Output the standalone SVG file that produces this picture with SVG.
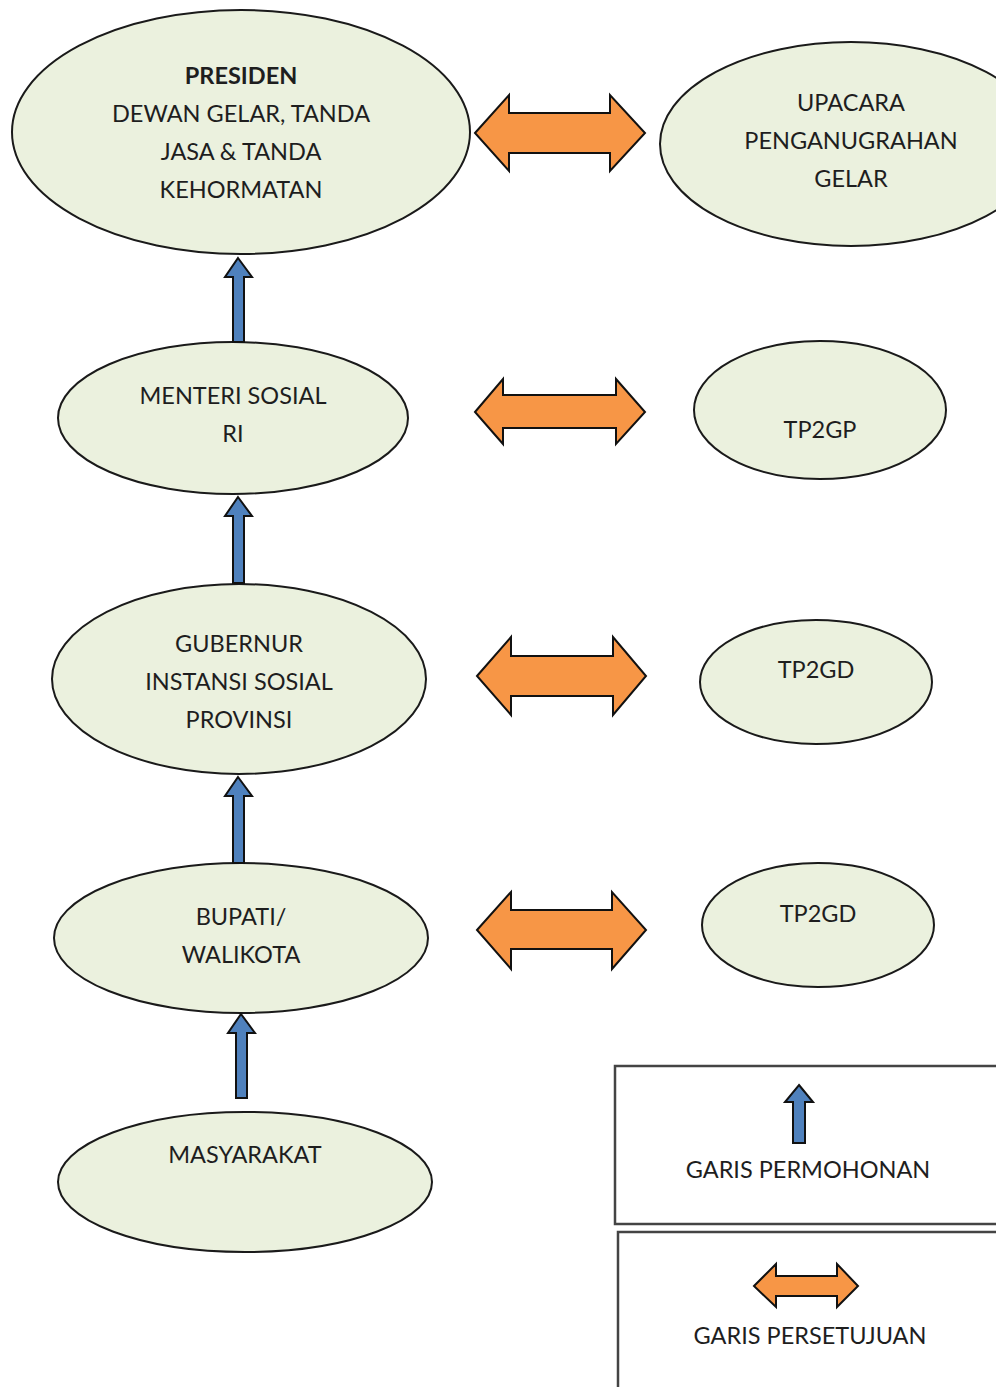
<svg xmlns="http://www.w3.org/2000/svg" width="996" height="1387" viewBox="0 0 996 1387">
<style>
.node{fill:#EBF1DE;stroke:#1a1a1a;stroke-width:2}
.t{font-family:Lato,"Open Sans",sans-serif;font-size:23.5px;fill:#1e1e1e;text-anchor:middle}
.b{font-weight:bold}
.up{fill:#4F81BD;stroke:#111;stroke-width:2;stroke-linejoin:miter}
.dbl{fill:#F79646;stroke:#111;stroke-width:2;stroke-linejoin:miter}
.box{fill:#fff;stroke:#444;stroke-width:2.5}
</style>
<rect width="996" height="1387" fill="#fff"/>
<g id="presiden">
<ellipse class="node" cx="241" cy="132" rx="229" ry="122"/>
<text class="t b" x="241" y="84">PRESIDEN</text>
<text class="t" x="241" y="122">DEWAN GELAR, TANDA</text>
<text class="t" x="241" y="160">JASA &amp; TANDA</text>
<text class="t" x="241" y="198">KEHORMATAN</text>
</g>
<g id="upacara">
<ellipse class="node" cx="851" cy="144" rx="191" ry="102"/>
<text class="t" x="851" y="111">UPACARA</text>
<text class="t" x="851" y="149">PENGANUGRAHAN</text>
<text class="t" x="851" y="187">GELAR</text>
</g>
<g id="menteri">
<ellipse class="node" cx="233" cy="418" rx="175" ry="76"/>
<text class="t" x="233" y="404">MENTERI SOSIAL</text>
<text class="t" x="233" y="442">RI</text>
</g>
<g id="tp2gp">
<ellipse class="node" cx="820" cy="410" rx="126" ry="69"/>
<text class="t" x="820" y="438">TP2GP</text>
</g>
<g id="gubernur">
<ellipse class="node" cx="239" cy="679" rx="187" ry="95"/>
<text class="t" x="239" y="652">GUBERNUR</text>
<text class="t" x="239" y="690">INSTANSI SOSIAL</text>
<text class="t" x="239" y="728">PROVINSI</text>
</g>
<g id="tp2gd1">
<ellipse class="node" cx="816" cy="682" rx="116" ry="62"/>
<text class="t" x="816" y="678">TP2GD</text>
</g>
<g id="bupati">
<ellipse class="node" cx="241" cy="938" rx="187" ry="75"/>
<text class="t" x="241" y="925">BUPATI/</text>
<text class="t" x="241" y="963">WALIKOTA</text>
</g>
<g id="tp2gd2">
<ellipse class="node" cx="818" cy="925" rx="116" ry="62"/>
<text class="t" x="818" y="922">TP2GD</text>
</g>
<g id="masyarakat">
<ellipse class="node" cx="245" cy="1182" rx="187" ry="70"/>
<text class="t" x="245" y="1163">MASYARAKAT</text>
</g>
<g id="connectors">
<path class="up" d="M238,258 L252,277 L244,277 L244,342 L233,342 L233,277 L225,277 Z"/>
<path class="up" d="M238,497 L252,516 L244,516 L244,583 L233,583 L233,516 L225,516 Z"/>
<path class="up" d="M238,777 L252,796 L244,796 L244,863 L233,863 L233,796 L225,796 Z"/>
<path class="up" d="M241,1014 L255,1033 L247,1033 L247,1098 L236,1098 L236,1033 L228,1033 Z"/>
<path class="dbl" d="M475,133 L509,95 L509,113 L610,113 L610,95 L645,133 L610,171 L610,153 L509,153 L509,171 Z"/>
<path class="dbl" d="M475,412 L503,379 L503,395 L616,395 L616,379 L645,412 L616,444 L616,428 L503,428 L503,444 Z"/>
<path class="dbl" d="M477,676 L511,637 L511,656 L613,656 L613,637 L646,676 L613,715 L613,696 L511,696 L511,715 Z"/>
<path class="dbl" d="M477,930 L511,892 L511,910 L612,910 L612,892 L646,930 L612,969 L612,949 L511,949 L511,969 Z"/>
</g>
<g id="legend-permohonan">
<rect class="box" x="615" y="1066" width="400" height="158"/>
<path class="up" d="M799,1085 L813,1102 L805,1102 L805,1143 L793,1143 L793,1102 L785,1102 Z"/>
<text class="t" x="808" y="1178">GARIS PERMOHONAN</text>
</g>
<g id="legend-persetujuan">
<rect class="box" x="618" y="1232" width="400" height="200"/>
<path class="dbl" d="M754,1286 L776,1264 L776,1276 L837,1276 L837,1264 L858,1286 L837,1307 L837,1296 L776,1296 L776,1307 Z"/>
<text class="t" x="810" y="1344">GARIS PERSETUJUAN</text>
</g>
</svg>
